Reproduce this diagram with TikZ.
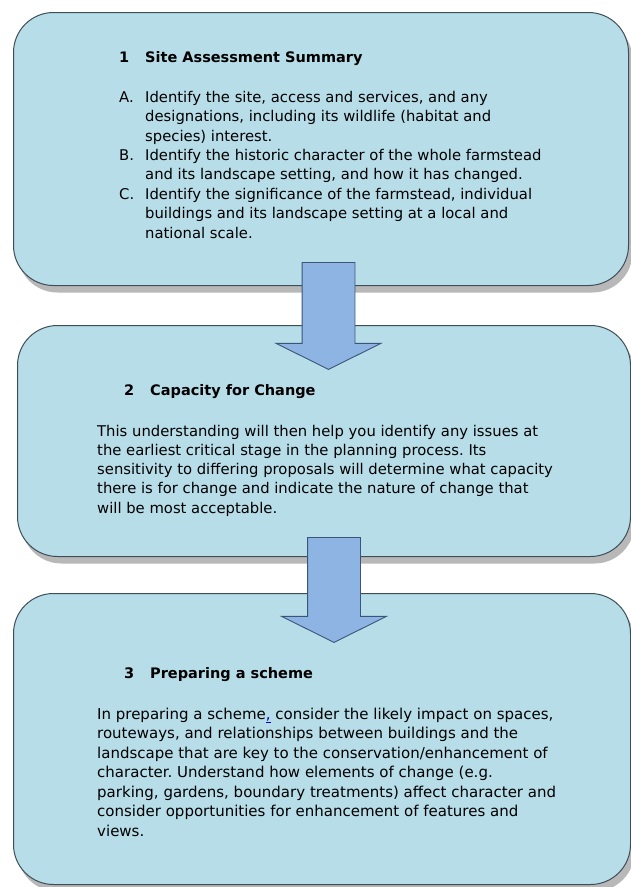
\documentclass[tikz,border=0pt]{standalone}
\usepackage{fontspec}
\setmainfont{DejaVu Sans}
\usetikzlibrary{shapes.arrows,shadows,positioning}
\frenchspacing

\definecolor{boxblue}{RGB}{183,221,232}
\definecolor{boxline}{RGB}{62,78,88}
\definecolor{arrowblue}{RGB}{142,180,227}
\definecolor{arrowline}{RGB}{58,85,120}

\tikzset{
  stage/.style={draw=boxline, line width=1pt, fill=boxblue, rounded corners=40pt,
    anchor=north west, inner sep=0pt,
    drop shadow={shadow xshift=4pt, shadow yshift=-7pt, fill=black!28, opacity=1}},
  downarrow/.style={single arrow, shape border rotate=270, draw=arrowline, fill=arrowblue,
    line width=0.9pt, inner sep=26pt, minimum width=104pt,
    single arrow head extend=26pt, single arrow tip angle=127, anchor=tail},
  heading/.style={anchor=base west, inner sep=0pt, font=\fontsize{14.5}{19}\selectfont\bfseries},
  bodytext/.style={anchor=north west, inner sep=0pt, align=left}
}

\begin{document}
\begin{tikzpicture}[x=1pt,y=-1pt]
\useasboundingbox (0,0) rectangle (630,887);
\fill[white] (0,0) rectangle (630,887);

% Boxes
\node[stage, minimum width=615pt, minimum height=273pt] (box1) at (13,12) {};
\node[stage, minimum width=613pt, minimum height=231pt] (box2) at (17,325) {};
\node[stage, minimum width=617pt, minimum height=291pt] (box3) at (13,593) {};

% Arrows between the stages
\node[downarrow, minimum height=107pt] (arrow1) at ([xshift=7.5pt,yshift=24pt]box1.south) {};
\node[downarrow, minimum height=105pt] (arrow2) at ([xshift=10pt,yshift=20pt]box2.south) {};

% Stage 1
\node[heading] (head1) at (119,62) {\makebox[26pt][l]{1}Site Assessment Summary};
\node[bodytext, font=\fontsize{14.8}{19.4}\selectfont] (text1) at (119,90.8) {%
\makebox[26pt][l]{A.}Identify the site, access and services, and any\\
\hspace*{26pt}designations, including its wildlife (habitat and\\
\hspace*{26pt}species) interest.\\
\makebox[26pt][l]{B.}Identify the historic character of the whole farmstead\\
\hspace*{26pt}and its landscape setting, and how it has changed.\\
\makebox[26pt][l]{C.}Identify the significance of the farmstead, individual\\
\hspace*{26pt}buildings and its landscape setting at a local and\\
\hspace*{26pt}national scale.};

% Stage 2
\node[heading] (head2) at (124,395) {\makebox[26pt][l]{2}Capacity for Change};
\node[bodytext, font=\fontsize{14.8}{19.2}\selectfont] (text2) at (97,424.8) {%
This understanding will then help you identify any issues at\\
the earliest critical stage in the planning process. Its\\
sensitivity to differing proposals will determine what capacity\\
there is for change and indicate the nature of change that\\
will be most acceptable.};

% Stage 3
\node[heading] (head3) at (124,678) {\makebox[26pt][l]{3}Preparing a scheme};
\node[bodytext, font=\fontsize{15}{19.5}\selectfont] (text3) at (97,707.5) {%
In preparing a scheme\textcolor{blue!80!black}{\underline{,}} consider the likely impact on spaces,\\
routeways, and relationships between buildings and the\\
landscape that are key to the conservation/enhancement of\\
character. Understand how elements of change (e.g.\\
parking, gardens, boundary treatments) affect character and\\
consider opportunities for enhancement of features and\\
views.};
\end{tikzpicture}
\end{document}
